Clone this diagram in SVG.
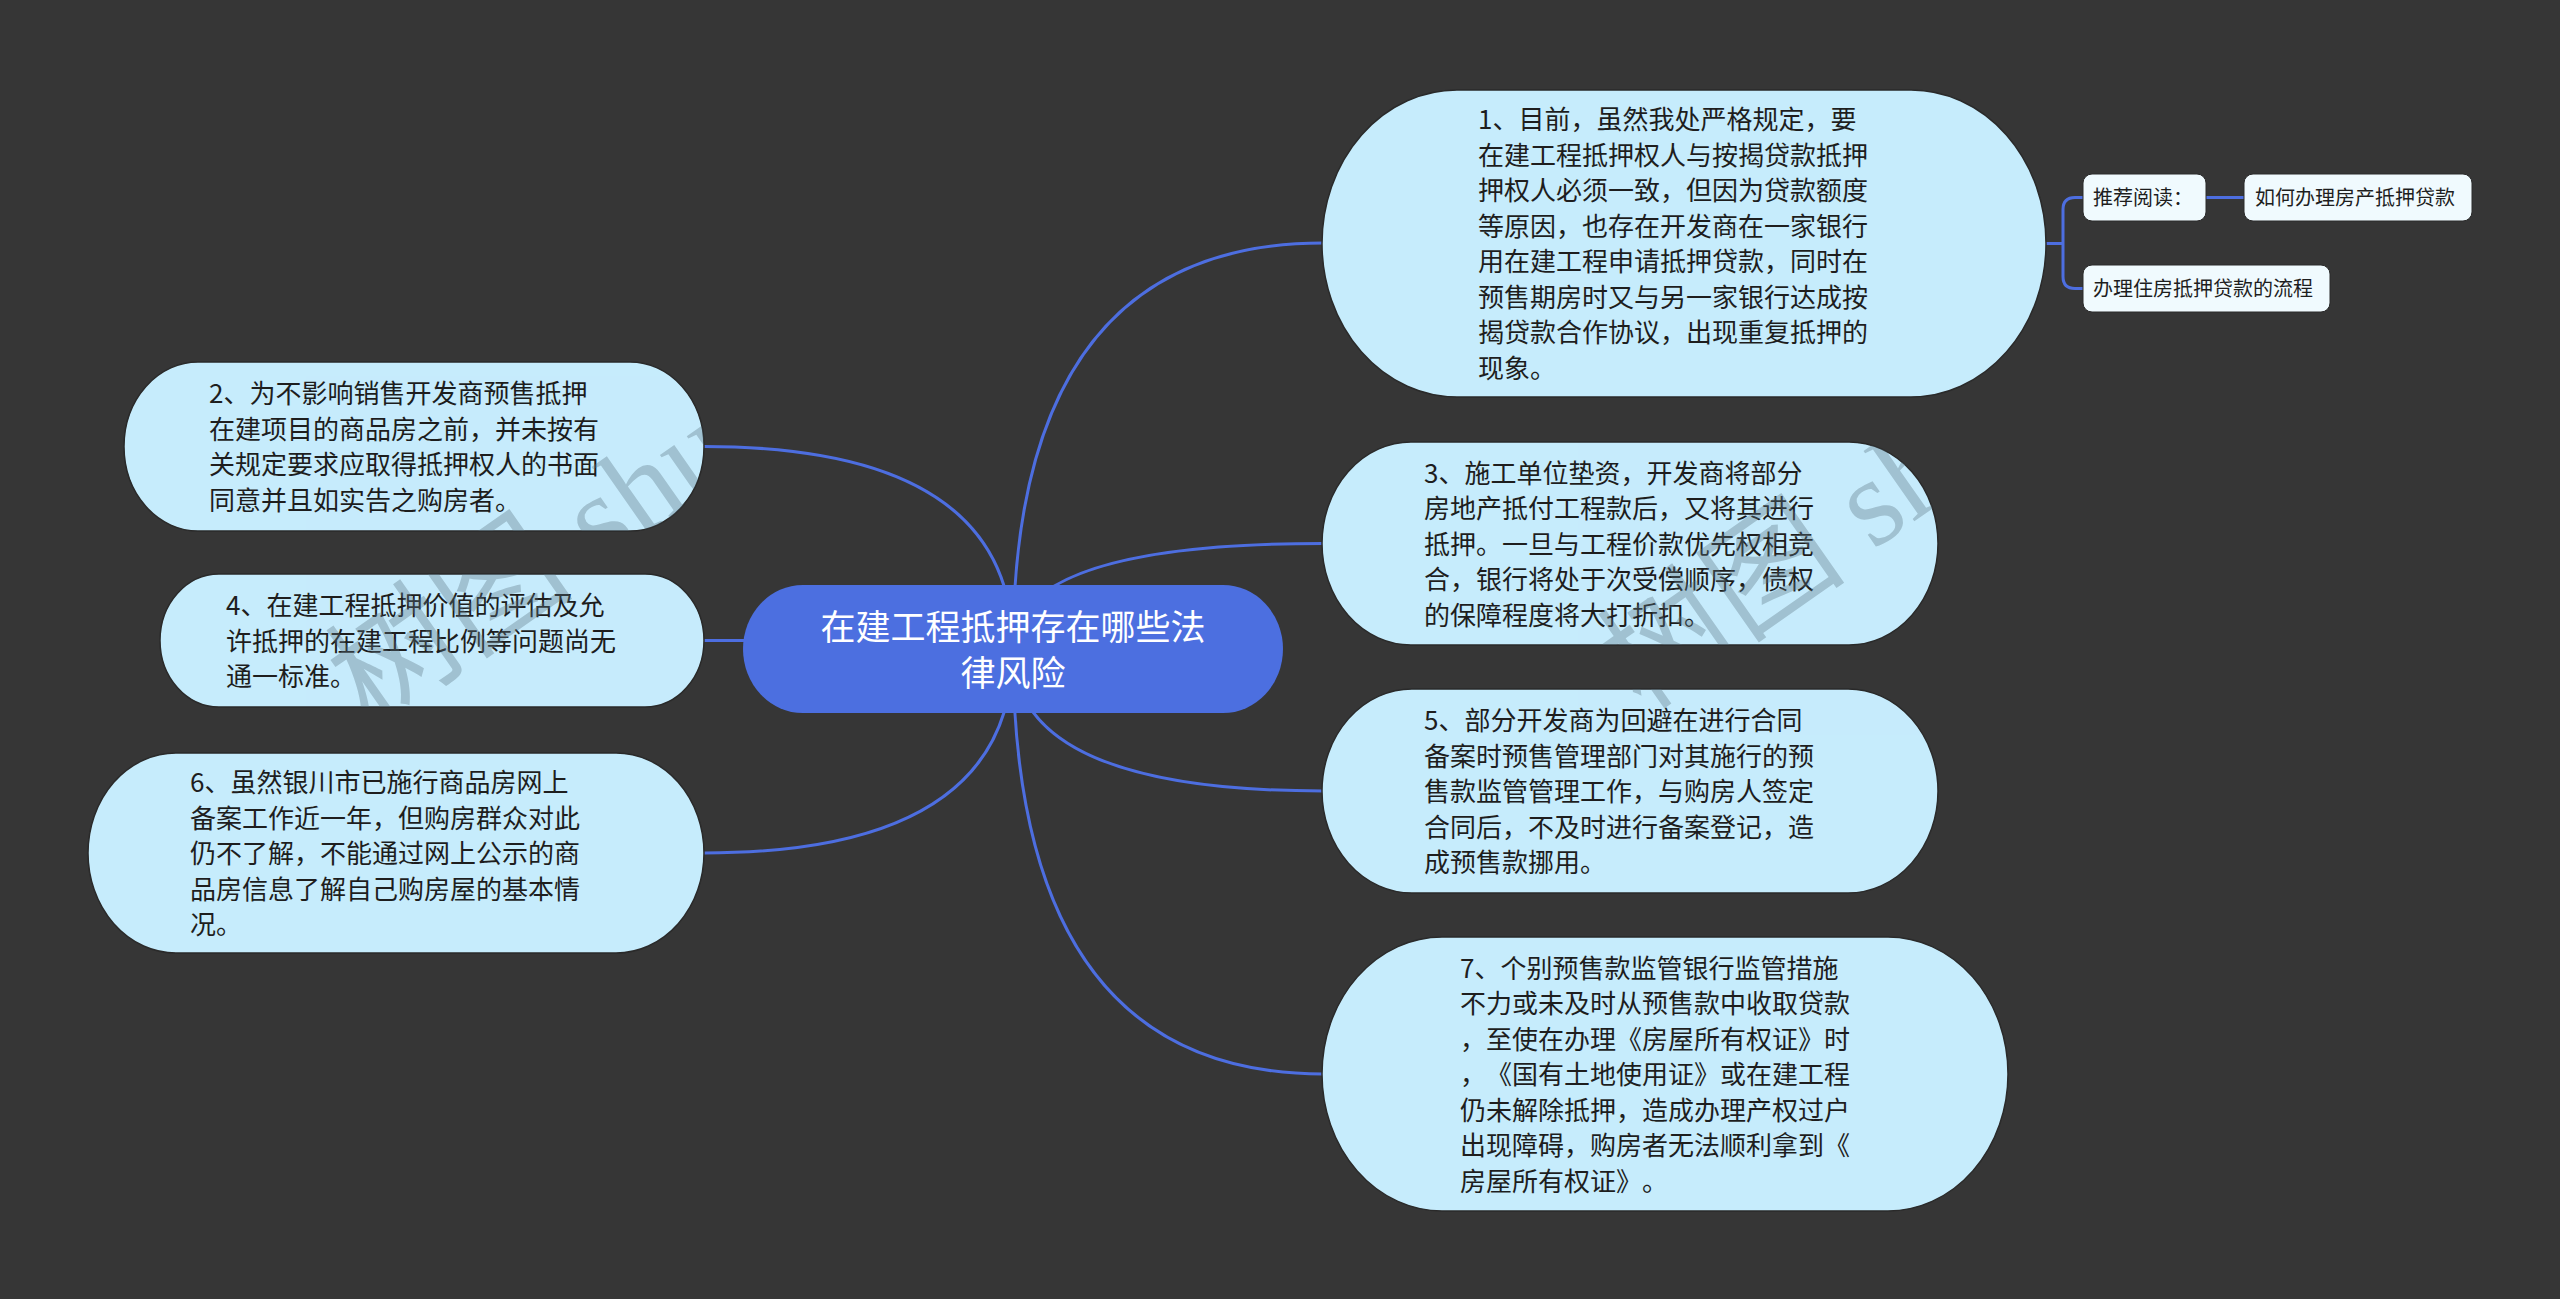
<svg xmlns="http://www.w3.org/2000/svg" width="2560" height="1299" viewBox="0 0 2560 1299">
<style>
.bg{fill:#363636}
.conn{fill:none;stroke:#4d6ee0;stroke-width:3}
.node{fill:#c6ecfc;stroke:#2a2a2a;stroke-width:1.5}
.txt{font-family:"Noto Sans CJK SC","Noto Sans",sans-serif;font-size:26px;fill:#1e1e1e;text-spacing-trim:space-all}
.root{fill:#4c6fe0}
.rtxt{font-family:"Noto Sans CJK SC","Noto Sans",sans-serif;font-size:35px;fill:#ffffff}
.sub{fill:#f0fafe;stroke:#2a2a2a;stroke-width:1}
.stxt{font-family:"Noto Sans CJK SC","Noto Sans",sans-serif;font-size:20px;fill:#1e1e1e}
.wm{font-family:"Liberation Serif","Noto Sans CJK SC",serif;font-size:125px;fill:#5a7380;opacity:0.35}
</style>
<defs>
<clipPath id="nodeclip">
<rect x="1322" y="90" width="724" height="307" rx="135" ry="153.5"/>
<rect x="1322" y="442" width="616" height="203" rx="89" ry="101.5"/>
<rect x="1322" y="689" width="616" height="204" rx="90" ry="102"/>
<rect x="124" y="362" width="580" height="169" rx="74" ry="84.5"/>
<rect x="160" y="574" width="544" height="133" rx="59" ry="66.5"/>
</clipPath>
</defs>
<rect class="bg" x="0" y="0" width="2560" height="1299"/>
<g id="connectors">
<path class="conn" d="M1013,649 Q1013,243 1323,243"/>
<path class="conn" d="M1013,649 Q1013,543.5 1323,543.5"/>
<path class="conn" d="M1013,649 Q1013,791 1323,791"/>
<path class="conn" d="M1013,649 Q1013,1074 1323,1074"/>
<path class="conn" d="M1013,649 Q1013,446.5 704,446.5"/>
<path class="conn" d="M1013,649 Q1013,640.5 704,640.5"/>
<path class="conn" d="M1013,649 Q1013,853 704,853"/>
<path class="conn" d="M2046,243.5 H2063 M2083,197.5 H2075 Q2063,197.5 2063,209.5 V276.5 Q2063,288.5 2075,288.5 H2083"/>
<path class="conn" d="M2206,197.5 H2244"/>
</g>
<g id="root">
<rect class="root" x="743" y="585" width="540" height="128" rx="60" ry="64"/>
<text class="rtxt" text-anchor="middle"><tspan x="1013" y="640">在建工程抵押存在哪些法</tspan><tspan x="1013" y="686">律风险</tspan></text>
</g>
<g id="n1">
<rect class="node" x="1322" y="90" width="724" height="307" rx="135" ry="153.5"/>
<text class="txt"><tspan x="1478" y="129">1、目前，虽然我处严格规定，要</tspan><tspan x="1478" dy="35.5">在建工程抵押权人与按揭贷款抵押</tspan><tspan x="1478" dy="35.5">押权人必须一致，但因为贷款额度</tspan><tspan x="1478" dy="35.5">等原因，也存在开发商在一家银行</tspan><tspan x="1478" dy="35.5">用在建工程申请抵押贷款，同时在</tspan><tspan x="1478" dy="35.5">预售期房时又与另一家银行达成按</tspan><tspan x="1478" dy="35.5">揭贷款合作协议，出现重复抵押的</tspan><tspan x="1478" dy="35.5">现象。</tspan></text>
</g>
<g id="n1a">
<rect class="sub" x="2083" y="174" width="123" height="47" rx="9"/>
<text class="stxt" x="2093" y="205">推荐阅读：</text>
</g>
<g id="n1b">
<rect class="sub" x="2244" y="174" width="228" height="47" rx="9"/>
<text class="stxt" x="2255" y="205">如何办理房产抵押贷款</text>
</g>
<g id="n1c">
<rect class="sub" x="2083" y="265" width="247" height="47" rx="9"/>
<text class="stxt" x="2093" y="296">办理住房抵押贷款的流程</text>
</g>
<g id="n3">
<rect class="node" x="1322" y="442" width="616" height="203" rx="89" ry="101.5"/>
<text class="txt"><tspan x="1424" y="482.5">3、施工单位垫资，开发商将部分</tspan><tspan x="1424" dy="35.5">房地产抵付工程款后，又将其进行</tspan><tspan x="1424" dy="35.5">抵押。一旦与工程价款优先权相竞</tspan><tspan x="1424" dy="35.5">合，银行将处于次受偿顺序，债权</tspan><tspan x="1424" dy="35.5">的保障程度将大打折扣。</tspan></text>
</g>
<g id="n5">
<rect class="node" x="1322" y="689" width="616" height="204" rx="90" ry="102"/>
<text class="txt"><tspan x="1424" y="730">5、部分开发商为回避在进行合同</tspan><tspan x="1424" dy="35.5">备案时预售管理部门对其施行的预</tspan><tspan x="1424" dy="35.5">售款监管管理工作，与购房人签定</tspan><tspan x="1424" dy="35.5">合同后，不及时进行备案登记，造</tspan><tspan x="1424" dy="35.5">成预售款挪用。</tspan></text>
</g>
<g id="n7">
<rect class="node" x="1322" y="937" width="686" height="274" rx="120" ry="137"/>
<text class="txt"><tspan x="1460" y="977.5">7、个别预售款监管银行监管措施</tspan><tspan x="1460" dy="35.5">不力或未及时从预售款中收取贷款</tspan><tspan x="1460" dy="35.5">，至使在办理《房屋所有权证》时</tspan><tspan x="1460" dy="35.5">，《国有土地使用证》或在建工程</tspan><tspan x="1460" dy="35.5">仍未解除抵押，造成办理产权过户</tspan><tspan x="1460" dy="35.5">出现障碍，购房者无法顺利拿到《</tspan><tspan x="1460" dy="35.5">房屋所有权证》。</tspan></text>
</g>
<g id="n2">
<rect class="node" x="124" y="362" width="580" height="169" rx="74" ry="84.5"/>
<text class="txt"><tspan x="209" y="403">2、为不影响销售开发商预售抵押</tspan><tspan x="209" dy="35.5">在建项目的商品房之前，并未按有</tspan><tspan x="209" dy="35.5">关规定要求应取得抵押权人的书面</tspan><tspan x="209" dy="35.5">同意并且如实告之购房者。</tspan></text>
</g>
<g id="n4">
<rect class="node" x="160" y="574" width="544" height="133" rx="59" ry="66.5"/>
<text class="txt"><tspan x="226" y="615">4、在建工程抵押价值的评估及允</tspan><tspan x="226" dy="35.5">许抵押的在建工程比例等问题尚无</tspan><tspan x="226" dy="35.5">通一标准。</tspan></text>
</g>
<g id="n6">
<rect class="node" x="88" y="753" width="616" height="200" rx="88" ry="100"/>
<text class="txt"><tspan x="190" y="792">6、虽然银川市已施行商品房网上</tspan><tspan x="190" dy="35.5">备案工作近一年，但购房群众对此</tspan><tspan x="190" dy="35.5">仍不了解，不能通过网上公示的商</tspan><tspan x="190" dy="35.5">品房信息了解自己购房屋的基本情</tspan><tspan x="190" dy="35.5">况。</tspan></text>
</g>
<g id="watermark" clip-path="url(#nodeclip)">
<text class="wm" transform="translate(370,728) rotate(-35)">树图 shu</text>
<text class="wm" transform="translate(1642,712) rotate(-35)">树图 sh</text>
</g>
</svg>
